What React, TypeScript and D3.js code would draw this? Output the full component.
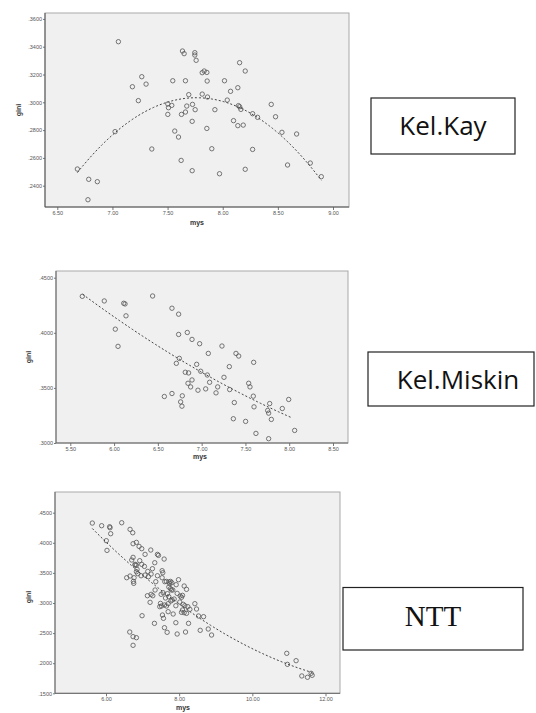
import React, { useEffect, useRef } from "react";
import * as d3 from "d3";

type Pt = [number, number];

// mys, gini
const kayPoints: Pt[] = [
  [6.682, 0.252], [6.785, 0.2446], [6.863, 0.2429], [6.778, 0.2299], [7.054, 0.3436],
  [7.024, 0.2789], [7.181, 0.3112], [7.266, 0.3184], [7.305, 0.3131], [7.235, 0.3012],
  [7.357, 0.2664], [7.547, 0.3155], [7.502, 0.2988], [7.508, 0.2961], [7.538, 0.2978],
  [7.502, 0.2913], [7.565, 0.2793], [7.599, 0.275], [7.626, 0.2913], [7.623, 0.2582],
  [7.635, 0.3369], [7.65, 0.335], [7.662, 0.3155], [7.662, 0.293], [7.674, 0.2973],
  [7.692, 0.3055], [7.726, 0.2985], [7.723, 0.2863], [7.723, 0.2508], [7.747, 0.3357],
  [7.747, 0.334], [7.759, 0.3302], [7.75, 0.2947], [7.814, 0.3059], [7.814, 0.3213],
  [7.832, 0.3225], [7.856, 0.3215], [7.859, 0.3153], [7.862, 0.3038], [7.856, 0.2812],
  [7.901, 0.2666], [7.929, 0.2947], [7.971, 0.2486], [8.016, 0.3155], [8.041, 0.3016],
  [8.071, 0.3079], [8.098, 0.2868], [8.137, 0.3105], [8.143, 0.2976], [8.153, 0.2968],
  [8.165, 0.2949], [8.137, 0.2832], [8.186, 0.2836], [8.153, 0.3285], [8.204, 0.3225],
  [8.204, 0.2518], [8.271, 0.2661], [8.271, 0.2918], [8.316, 0.2892], [8.44, 0.2985],
  [8.479, 0.2896], [8.537, 0.2784], [8.588, 0.2549], [8.67, 0.2772], [8.794, 0.2563],
  [8.894, 0.2465],
];

const miskinPoints: Pt[] = [
  [5.637, 0.4331], [5.888, 0.4289], [6.11, 0.4268], [6.125, 0.4262], [6.136, 0.4154],
  [6.014, 0.4033], [6.045, 0.3877], [6.44, 0.4334], [6.661, 0.4223], [6.737, 0.4169],
  [6.836, 0.4003], [6.737, 0.3985], [6.89, 0.394], [6.977, 0.3901], [7.076, 0.3813],
  [7.232, 0.388], [7.392, 0.3813], [7.423, 0.3789], [7.594, 0.3732], [6.745, 0.3768],
  [6.711, 0.3723], [6.813, 0.3642], [6.851, 0.3636], [6.943, 0.3714], [6.989, 0.3651],
  [7.065, 0.3617], [7.316, 0.3693], [7.255, 0.3596], [6.89, 0.3572], [6.844, 0.3542],
  [7.091, 0.3551], [6.874, 0.3509], [7.183, 0.3509], [7.32, 0.3485], [7.537, 0.3542],
  [7.552, 0.3509], [6.958, 0.3479], [7.046, 0.3491], [7.164, 0.3455], [6.574, 0.3422],
  [6.661, 0.3449], [6.779, 0.3428], [6.76, 0.3373], [6.775, 0.3334], [7.373, 0.3367],
  [7.59, 0.3425], [7.598, 0.3328], [7.777, 0.3358], [7.754, 0.3295], [7.765, 0.3271],
  [7.921, 0.3313], [7.994, 0.3395], [7.796, 0.3214], [7.362, 0.322], [7.502, 0.3196],
  [7.62, 0.3087], [7.765, 0.3039], [8.062, 0.3114],
];
// fit line as printed by SPSS for this group (c0 + c1 x + c2 x^2), range of the line
const miskinFit = [0.9265, -0.1154, 0.00501];
const miskinFitRange = [5.641, 8.028];

const nttPoints: Pt[] = [
  [5.626, 0.4328], [5.881, 0.4284], [6.1, 0.4267], [6.11, 0.425], [6.128, 0.4151],
  [6.009, 0.4035], [6.027, 0.3874], [6.429, 0.4333], [6.658, 0.4223], [6.731, 0.4167],
  [6.831, 0.4007], [6.74, 0.3985], [6.904, 0.394], [6.977, 0.3902], [7.068, 0.3808],
  [7.224, 0.388], [7.406, 0.3808], [7.434, 0.3791], [7.589, 0.373], [6.74, 0.3758],
  [6.703, 0.3714], [6.795, 0.3642], [6.831, 0.363], [6.795, 0.363], [6.922, 0.3703],
  [6.977, 0.3642], [7.05, 0.3608], [7.333, 0.3669], [7.269, 0.357], [6.849, 0.3559],
  [6.831, 0.352], [7.142, 0.3525], [6.868, 0.3487], [7.233, 0.3481], [7.406, 0.3453],
  [7.534, 0.3537], [7.553, 0.3503], [6.959, 0.3453], [7.068, 0.3464], [7.16, 0.3437],
  [6.566, 0.342], [6.658, 0.3448], [6.767, 0.342], [6.749, 0.3359], [6.758, 0.3326],
  [7.361, 0.3354], [7.534, 0.342], [7.607, 0.3354], [7.653, 0.3359], [7.726, 0.3348],
  [7.744, 0.3321], [7.763, 0.3359], [7.799, 0.3337], [7.717, 0.3265], [7.763, 0.3238],
  [7.79, 0.3216], [7.826, 0.3216], [7.982, 0.3387], [7.918, 0.3304], [8.137, 0.3282],
  [8.201, 0.3227], [7.132, 0.3121], [7.233, 0.3144], [7.279, 0.3121], [7.342, 0.3216],
  [7.507, 0.3144], [7.562, 0.3171], [7.626, 0.3083], [7.68, 0.3155], [7.717, 0.3105],
  [7.808, 0.305], [7.863, 0.3066], [7.945, 0.316], [8.027, 0.3116], [8.064, 0.3094],
  [8.091, 0.3127], [7.205, 0.3011], [7.489, 0.2994], [7.516, 0.295], [7.47, 0.2939],
  [7.598, 0.2967], [7.653, 0.295], [7.699, 0.2989], [7.772, 0.3033], [7.909, 0.2955],
  [8.018, 0.3016], [8.11, 0.2978], [8.155, 0.2955], [8.237, 0.2939], [8.292, 0.2895],
  [8.429, 0.2989], [8.091, 0.2884], [8.137, 0.2839], [8.064, 0.2845], [8.201, 0.2828],
  [8.475, 0.29], [8.53, 0.2784], [8.667, 0.2773], [8.575, 0.2546], [8.795, 0.2568],
  [8.886, 0.2468], [7.543, 0.28], [7.571, 0.2745], [7.699, 0.2856], [7.836, 0.2817],
  [7.909, 0.2673], [8.256, 0.2662], [8.174, 0.2518], [7.945, 0.2485], [7.671, 0.2513],
  [7.598, 0.259], [7.324, 0.2662], [6.986, 0.2789], [6.649, 0.2518], [6.74, 0.2441],
  [6.831, 0.2424], [6.74, 0.2297], [10.941, 0.2164], [10.959, 0.1981], [11.196, 0.2042],
  [11.352, 0.1788], [11.507, 0.1766], [11.607, 0.1832], [11.635, 0.1799],
];

const kayXTicks = [6.5, 7, 7.5, 8, 8.5, 9];
const kayYTicks = [0.24, 0.26, 0.28, 0.3, 0.32, 0.34, 0.36];
const miskinXTicks = [5.5, 6, 6.5, 7, 7.5, 8, 8.5];
const miskinYTicks = [0.3, 0.35, 0.4, 0.45];
const nttXTicks = [6, 8, 10, 12];
const nttYTicks = [0.15, 0.2, 0.25, 0.3, 0.35, 0.4, 0.45];

const groupLabels = ["Kel.Kay", "Kel.Miskin", "NTT"];

// least squares polynomial fit, returns coefficients c0 + c1 x + c2 x^2 ...
function polyfit(pts: Pt[], deg: number) {
  const n = deg + 1;
  const A: number[][] = d3.range(n).map(() => d3.range(n + 1).map(() => 0));
  pts.forEach(([x, y]) => {
    for (let i = 0; i < n; i++) {
      for (let j = 0; j < n; j++) A[i][j] += Math.pow(x, i + j);
      A[i][n] += y * Math.pow(x, i);
    }
  });
  for (let i = 0; i < n; i++) {
    let p = i;
    for (let k = i + 1; k < n; k++) if (Math.abs(A[k][i]) > Math.abs(A[p][i])) p = k;
    [A[i], A[p]] = [A[p], A[i]];
    for (let k = i + 1; k < n; k++) {
      const f = A[k][i] / A[i][i];
      for (let j = i; j <= n; j++) A[k][j] -= f * A[i][j];
    }
  }
  const c = new Array(n).fill(0);
  for (let i = n - 1; i >= 0; i--) {
    let s = A[i][n];
    for (let j = i + 1; j < n; j++) s -= A[i][j] * c[j];
    c[i] = s / A[i][i];
  }
  return c;
}

const panels: any[] = [
  {
    pts: kayPoints, deg: 2, xt: kayXTicks, yt: kayYTicks,
    frame: [45, 13, 349, 207], xDom: [6.5, 9], xRange: [57.3, 333], yDom: [0.24, 0.34], yRange: [185.7, 46.7],
    mys: [197, 225], gini: [19, 110], dark: "#555",
  },
  {
    pts: miskinPoints, fit: miskinFit, fitRange: miskinFitRange, xt: miskinXTicks, yt: miskinYTicks,
    frame: [56, 271, 348, 443], xDom: [5.5, 8.5], xRange: [70.3, 333], yDom: [0.3, 0.45], yRange: [443, 277.7],
    mys: [200, 459], gini: [29, 357], dark: "#666",
  },
  {
    pts: nttPoints, deg: 2, xt: nttXTicks, yt: nttYTicks,
    frame: [55, 492, 340, 693.3], xDom: [6, 12], xRange: [106, 325.5], yDom: [0.15, 0.45], yRange: [693.3, 512.7],
    mys: [183, 710], gini: [29, 597], dark: "#666",
  },
];

const boxes = [
  { x: 371, y: 98, w: 144, h: 56, tx: 443, ty: 135, size: 26, font: "'Open Sans', sans-serif" },
  { x: 368, y: 352, w: 166, h: 54, tx: 458, ty: 388.5, size: 26, font: "'Open Sans', sans-serif" },
  { x: 343, y: 587.5, w: 180, h: 62.5, tx: 433, ty: 626, size: 29, font: "'Liberation Serif', serif" },
];

export default function App() {
  const ref = useRef<SVGSVGElement>(null);

  useEffect(() => {
    const svg = d3.select(ref.current);
    svg.selectAll("*").remove();

    panels.forEach((p) => {
      const g = svg.append("g");
      const [l, t, r, b] = p.frame;
      const x = d3.scaleLinear().domain(p.xDom).range(p.xRange);
      const y = d3.scaleLinear().domain(p.yDom).range(p.yRange);

      g.append("rect")
        .attr("x", l).attr("y", t).attr("width", r - l).attr("height", b - t)
        .attr("fill", "#f0f0f0").attr("stroke", "#a9a9a9").attr("stroke-width", 1);

      const xAxis = g.append("g").attr("transform", `translate(0,${b})`)
        .call(d3.axisBottom(x).tickValues(p.xt).tickFormat(d3.format(".2f")).tickSize(3).tickPadding(1));
      const yAxis = g.append("g").attr("transform", `translate(${l},0)`)
        .call(d3.axisLeft(y).tickValues(p.yt)
          .tickFormat((d) => d3.format(".4f")(d as number).replace(/^0/, ""))
          .tickSize(2).tickPadding(1));
      [xAxis, yAxis].forEach((a) => {
        a.select(".domain").remove();
        a.selectAll("line").attr("stroke", "#777");
        a.selectAll("text").attr("font-size", 5.5).attr("fill", "#555")
          .attr("font-family", "'Liberation Sans', Arial, sans-serif");
      });
      // darker axis lines on left and bottom
      g.append("line").attr("x1", l).attr("x2", l).attr("y1", t).attr("y2", b).attr("stroke", p.dark);
      g.append("line").attr("x1", l).attr("x2", r).attr("y1", b).attr("y2", b).attr("stroke", p.dark);

      g.append("text").text("mys").attr("x", p.mys[0]).attr("y", p.mys[1])
        .attr("text-anchor", "middle").attr("font-size", 7).attr("font-weight", "bold")
        .attr("fill", "#333").attr("font-family", "'Liberation Sans', Arial, sans-serif");
      g.append("text").text("gini")
        .attr("transform", `translate(${p.gini[0]},${p.gini[1]}) rotate(-90)`)
        .attr("text-anchor", "middle").attr("dy", "0.35em").attr("font-size", 7).attr("font-weight", "bold")
        .attr("fill", "#333").attr("font-family", "'Liberation Sans', Arial, sans-serif");

      g.append("g").selectAll("circle").data(p.pts as Pt[]).join("circle")
        .attr("cx", (d) => x(d[0])).attr("cy", (d) => y(d[1])).attr("r", 2.2)
        .attr("fill", "none").attr("stroke", "#555").attr("stroke-width", 0.8);

      const c: number[] = p.fit || polyfit(p.pts, p.deg);
      const [x0, x1] = p.fitRange || (d3.extent(p.pts as Pt[], (d) => d[0]) as [number, number]);
      const xs = d3.range(81).map((i) => x0 + ((x1 - x0) * i) / 80);
      const line = d3.line<number>()
        .x((v) => x(v))
        .y((v) => y(c.reduce((s, ci, i) => s + ci * Math.pow(v, i), 0)));
      g.append("path").datum(xs).attr("d", line).attr("fill", "none")
        .attr("stroke", "#444").attr("stroke-width", 1).attr("stroke-dasharray", "2,2");
    });

    const bg = svg.append("g").selectAll("g").data(boxes).join("g");
    bg.append("rect").attr("x", (d) => d.x).attr("y", (d) => d.y)
      .attr("width", (d) => d.w).attr("height", (d) => d.h)
      .attr("fill", "white").attr("stroke", "#222").attr("stroke-width", 1.2);
    bg.append("text").text((d, i) => groupLabels[i])
      .attr("x", (d) => d.tx).attr("y", (d) => d.ty).attr("text-anchor", "middle")
      .attr("font-size", (d) => d.size).attr("font-family", (d) => d.font).attr("fill", "#111");
  }, []);

  return (
    <div style={{ position: "absolute", left: 0, top: 0 }}>
      <svg ref={ref} width={536} height={713} style={{ display: "block", background: "white" }} />
    </div>
  );
}
